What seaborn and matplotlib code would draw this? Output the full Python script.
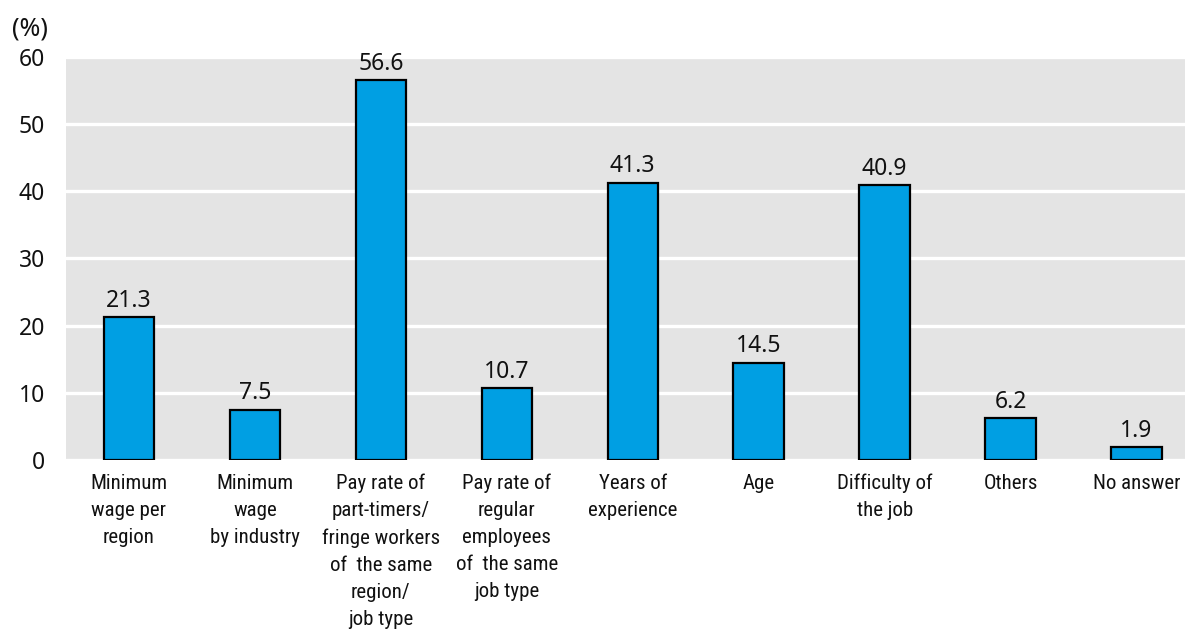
import matplotlib
matplotlib.use("Agg")
import matplotlib.pyplot as plt
import seaborn as sns
import pandas as pd

categories = [
    "Minimum\nwage per\nregion",
    "Minimum\nwage\nby industry",
    "Pay rate of\npart-timers/\nfringe workers\nof  the same\nregion/\njob type",
    "Pay rate of\nregular\nemployees\nof  the same\njob type",
    "Years of\nexperience",
    "Age",
    "Difficulty of\nthe job",
    "Others",
    "No answer",
]
values = [21.3, 7.5, 56.6, 10.7, 41.3, 14.5, 40.9, 6.2, 1.9]
yticks = [0, 10, 20, 30, 40, 50, 60]

sns.set_theme(style="darkgrid")
plt.rcParams["font.family"] = ["Noto Sans", "DejaVu Sans"]

df = pd.DataFrame({"category": categories, "value": values})

fig = plt.figure(figsize=(11.85, 6.37), dpi=100)
ax = fig.add_axes([0.0557, 0.2779, 0.9443, 0.6326])
ax.set_facecolor("#e4e4e4")

sns.barplot(data=df, x="category", y="value", color="#009fe3", width=0.4,
            edgecolor="black", linewidth=1.6, saturation=1, ax=ax)

for container in ax.containers:
    ax.bar_label(container, labels=[f"{v:.1f}" for v in values],
                 padding=3, fontsize=16.5, color="#111111")

ax.set_ylim(0, 60)
ax.set_xlim(-0.5, 8.385)
ax.set_yticks(yticks)
ax.grid(axis="y", color="white", linewidth=2.4)
ax.grid(axis="x", visible=False)
for s in ax.spines.values():
    s.set_visible(False)

ax.set_xlabel("")
ax.set_ylabel("")
ax.tick_params(axis="y", length=0, pad=15, labelsize=16.5, labelcolor="#111111")
ax.tick_params(axis="x", length=0, pad=10, labelcolor="#111111")
for lbl in ax.get_xticklabels():
    lbl.set_family(["Roboto Condensed", "Roboto", "DejaVu Sans"])
    lbl.set_fontsize(15)
    lbl.set_linespacing(1.53)
    lbl.set_verticalalignment("top")

fig.text(0.010, 0.955, "(%)", fontsize=18, color="#111111", va="center", ha="left")

fig.savefig("out.png", dpi=100, facecolor="white")
